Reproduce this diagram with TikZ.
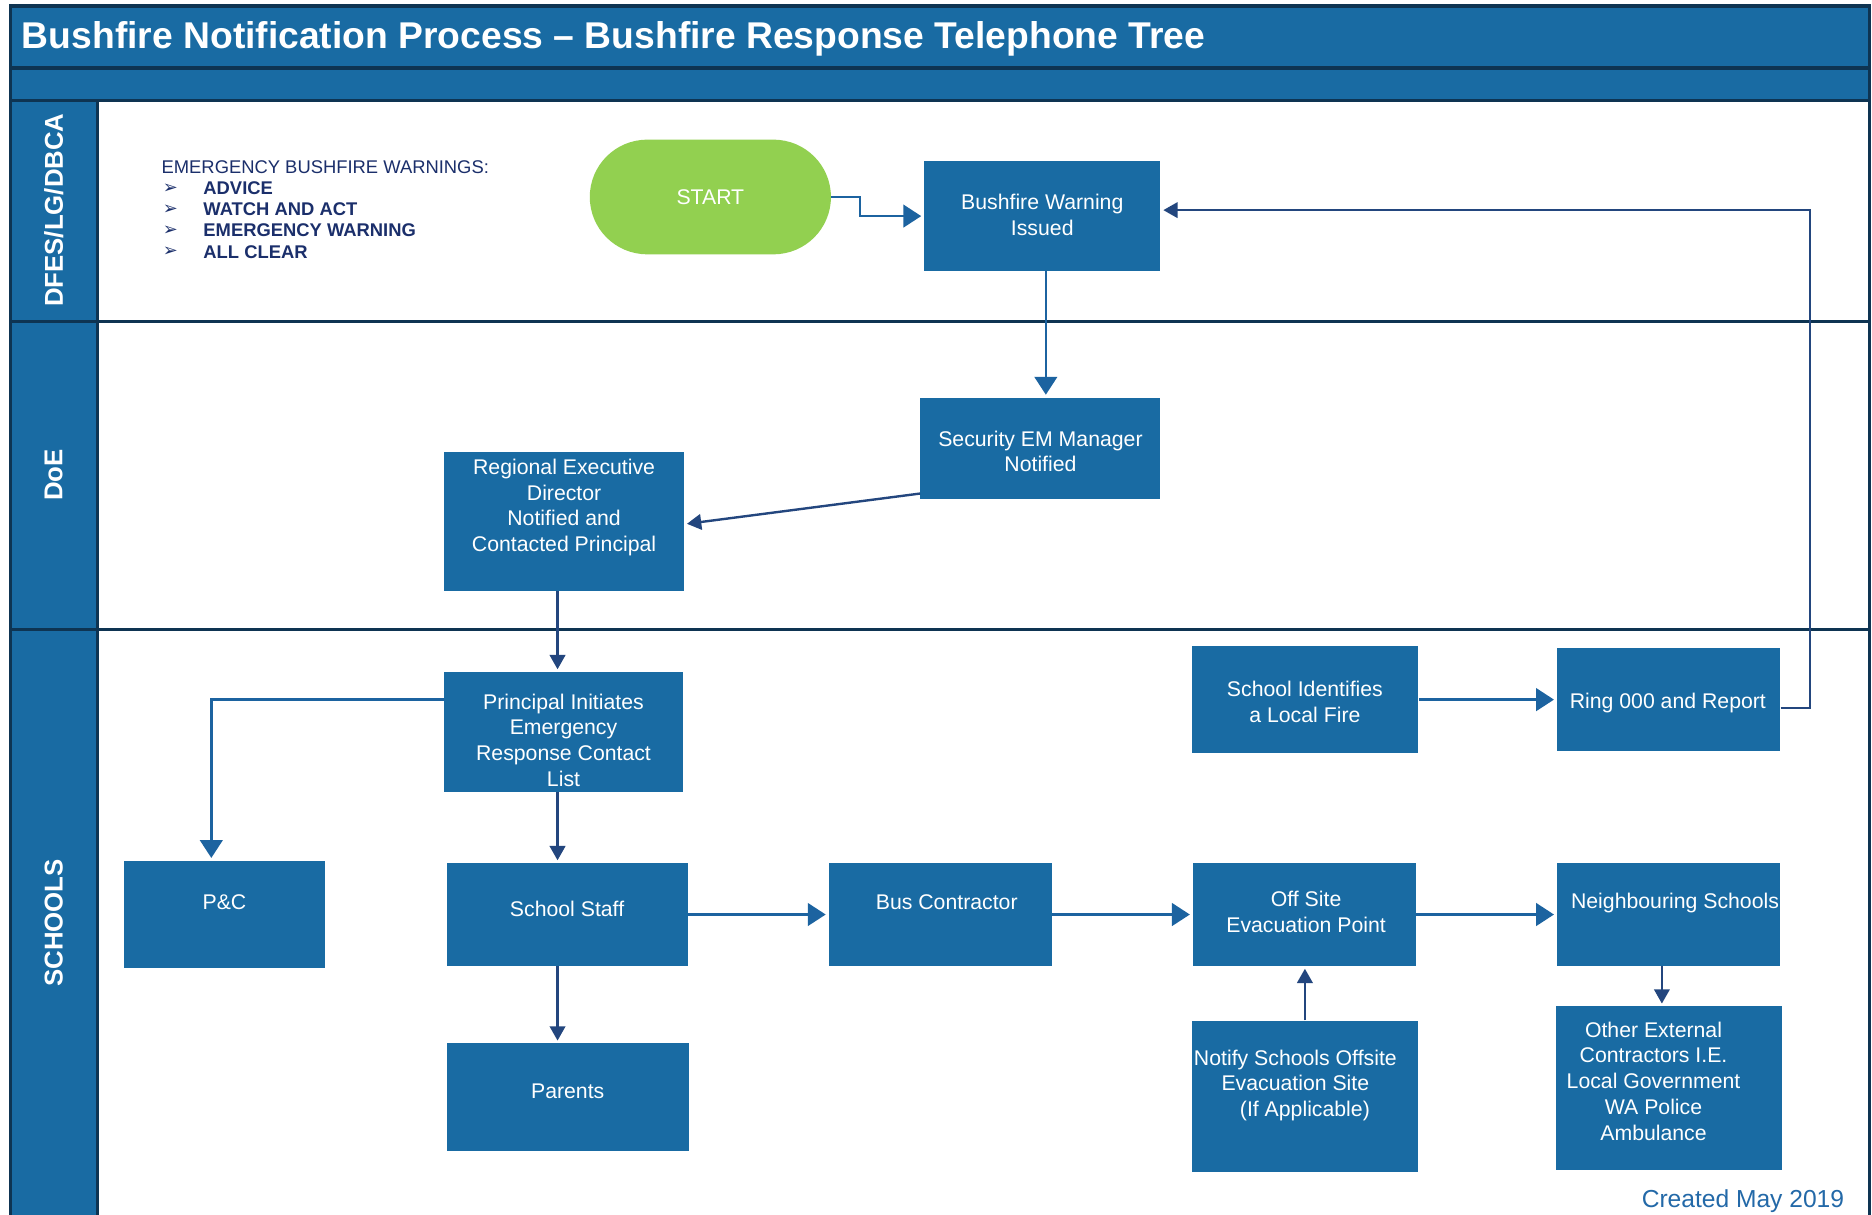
\documentclass[tikz,border=0pt]{standalone}
\usepackage{fontspec}
\setmainfont{Liberation Sans}
\newfontfamily\dejavu{DejaVu Sans}
\usetikzlibrary{fit,calc,arrows.meta}
\definecolor{boxblue}{HTML}{196BA3}
\definecolor{navy}{HTML}{0E3452}
\definecolor{lineblue}{HTML}{1C63A0}
\definecolor{linenavy}{HTML}{23467E}
\definecolor{startgreen}{HTML}{92D050}
\definecolor{warntext}{HTML}{1B2F6B}
\definecolor{createdblue}{HTML}{2369A8}
\begin{document}
\begin{tikzpicture}[x=0.5pt,y=-0.5pt,
  box/.style={fill=boxblue, draw=none, inner sep=0pt, rectangle},
  btxt/.style={text=white, font=\fontsize{8.9}{10.75}\selectfont, align=center, inner sep=0pt},
  conn/.style={line width=1pt, draw=lineblue, -{Triangle[length=7.5pt,width=9.5pt]}, shorten >=1pt},
  connd/.style={line width=1pt, draw=linenavy, -{Triangle[length=6pt,width=6.5pt]}, shorten >=1pt},
  frame/.style={draw=navy, line width=1.3pt},
  lane/.style={text=white, font=\fontsize{10.8}{13}\selectfont\bfseries, rotate=90, inner sep=0pt},
  warn/.style={anchor=west, text=warntext, inner sep=0pt, font=\fontsize{7.7}{9}\selectfont}]

\useasboundingbox (0,0) rectangle (1568,1017);
\fill[white] (0,0) rectangle (1568,1017);

% frame
\filldraw[fill=boxblue, frame] (9,5) rectangle (1566,57);
\filldraw[fill=boxblue, frame] (9,57) rectangle (1566,84);
\filldraw[fill=boxblue, frame] (9,84) rectangle (82,1030);
\draw[frame] (82,84) -- (1566,84);
\draw[frame] (9,269) -- (1566,269);
\draw[frame] (9,527) -- (1566,527);
\draw[frame] (1566,84) -- (1566,1030);

\node[anchor=west, text=white, inner sep=0pt, font=\fontsize{15.6}{18}\selectfont\bfseries] (title) at (18,32.5)
  {Bushfire Notification Process – Bushfire Response Telephone Tree};

\node[lane] (lane1) at (45,176) {DFES/LG/DBCA};
\node[lane] (lane2) at (45,398) {DoE};
\node[lane] (lane3) at (45,773) {SCHOOLS};

% warnings
\node[warn] (wh) at (135,140) {EMERGENCY BUSHFIRE WARNINGS:};
\foreach \t [count=\i] in {ADVICE, WATCH AND ACT, EMERGENCY WARNING, ALL CLEAR}{
  \node[warn, font=\fontsize{7.7}{9}\selectfont\bfseries] (w\i) at (170,140+17.7*\i) {\t};
  \node[warn, font=\dejavu\fontsize{7.5}{8}\selectfont] (b\i) at (136,140+17.7*\i) {➢};
}

% start
\node[fill=startgreen, rounded corners=24pt, minimum width=101pt, minimum height=48pt,
  inner sep=0pt, text=white, font=\fontsize{8.9}{10.75}\selectfont] (start) at (595,165) {START};

% boxes
\node[box, fit={(774,135) (972,227)}] (bw) {};
\node[btxt] (bwt) at (873,180) {Bushfire Warning\\Issued};
\node[box, fit={(771,333) (972,418)}] (sec) {};
\node[btxt] (sect) at (871.5,378) {Security EM Manager\\Notified};
\node[box, fit={(372,379) (573,495)}] (red) {};
\node[btxt] (redt) at (472.5,425) {Regional Executive\\Director\\Notified and\\Contacted Principal};
\node[box, fit={(372,563) (572,663)}] (pri) {};
\node[btxt] (prit) at (472,620) {Principal Initiates\\Emergency\\Response Contact\\List};
\node[box, fit={(104,721) (272,811)}] (pc) {};
\node[btxt] (pct) at (188,756) {P\&C};
\node[box, fit={(374,723) (576,809)}] (ss) {};
\node[btxt] (sst) at (475,761) {School Staff};
\node[box, fit={(374,874) (577,964)}] (par) {};
\node[btxt] (part) at (475.5,914) {Parents};
\node[box, fit={(694,723) (881,809)}] (bus) {};
\node[btxt] (bust) at (793,756) {Bus Contractor};
\node[box, fit={(999,723) (1186,809)}] (off) {};
\node[btxt] (offt) at (1094,764) {Off Site\\Evacuation Point};
\node[box, fit={(1304,723) (1491,809)}] (nb) {};
\node[btxt] (nbt) at (1403,756) {Neighbouring Schools};
\node[box, fit={(998,855) (1188,982)}] (ns) {};
\node[btxt] (nst) at (1085,909) {Notify Schools Offsite\\Evacuation Site\\\hspace*{8pt}(If Applicable)};
\node[box, fit={(1303,843) (1493,980)}] (oth) {};
\node[btxt] (otht) at (1385,905.5) {Other External\\Contractors I.E.\\Local Government\\WA Police\\Ambulance};
\node[box, fit={(998,541) (1188,631)}] (sid) {};
\node[btxt] (sidt) at (1093,588) {School Identifies\\a Local Fire};
\node[box, fit={(1304,543) (1491,629)}] (ring) {};
\node[btxt] (ringt) at (1397,589) {Ring 000 and Report};

\node[anchor=east, text=createdblue, inner sep=0pt, font=\fontsize{10.3}{12}\selectfont] (created) at (1545,1006) {Created May 2019};

% helper columns
\coordinate (cA) at (467,0);
\coordinate (cC) at (876,0);
\coordinate (cP) at (177,0);
\coordinate (cN) at (1392,0);
\coordinate (rc) at (1516,176);

% connectors
\draw[conn] (start.east) -- ++(24,0) |- (bw.west);
\draw[conn] (bw.south -| cC) -- (sec.north -| cC);
\draw[connd] ($(sec.south west)+(0,-5)$) -- ($(red.east)+(0,2)$);
\draw[connd] (red.south -| cA) -- (pri.north -| cA);
\draw[conn] ($(pri.west)+(0,-27)$) -| (pc.north -| cP);
\draw[connd] (pri.south -| cA) -- (ss.north -| cA);
\draw[connd] (ss.south -| cA) -- (par.north -| cA);
\draw[conn] (ss.east) -- (bus.west);
\draw[conn] (bus.east) -- (off.west);
\draw[conn] (off.east) -- (nb.west);
\draw[connd] (ns.north) -- (ns.north |- off.south);
\draw[connd] (nb.south -| cN) -- (oth.north -| cN);
\draw[conn] (sid.east) -- (ring.west);
\draw[connd] ($(ring.east)+(0,7)$) -| (rc) -- (bw.east |- rc);
\end{tikzpicture}
\end{document}
